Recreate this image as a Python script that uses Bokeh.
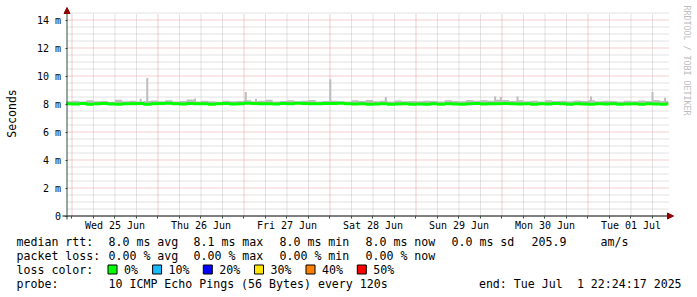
import math
import pandas as pd
from bokeh.plotting import figure
from bokeh.models import (Range1d, FixedTicker, Label, Arrow, NormalHead,
                          ColumnDataSource, DatetimeTickFormatter)
from bokeh.core.properties import value
from bokeh.embed import file_html
from bokeh.resources import INLINE

# ---------------- data ----------------
START = "2025-06-24 22:24:17"
END = "2025-07-01 22:24:17"
BIN_START = "2025-06-24 22:00"   # 2-hour bins

median_ms = [
    8.02,
    8.00, 8.03, 7.99, 8.01, 8.04, 8.00, 7.98, 8.02, 8.01, 8.03, 7.99, 8.01,
    8.04, 8.06, 8.02, 8.00, 8.03, 8.01, 8.02, 7.99, 8.01, 8.03, 8.00, 8.02,
    8.05, 8.03, 8.01, 8.02, 8.00, 8.04, 8.02, 8.06, 8.03, 8.01, 8.02, 8.04,
    8.03, 8.05, 8.02, 8.00, 8.01, 7.99, 8.00, 8.02, 7.98, 8.00, 8.01, 7.99,
    8.00, 7.98, 8.01, 7.99, 8.02, 8.00, 7.98, 8.01, 8.03, 8.00, 8.02, 8.01,
    8.04, 8.02, 8.00, 8.01, 7.99, 8.02, 8.00, 8.03, 8.01, 7.99, 8.02, 8.00,
    7.99, 8.01, 8.00, 8.02, 7.98, 8.00, 8.01, 7.99, 8.02, 8.00, 7.99, 8.01,
]
smoke_hi_ms = [
    8.20,
    8.24, 8.18, 8.27, 8.20, 8.22, 8.16, 8.30, 8.19, 8.23, 8.17, 8.21, 8.25,
    8.19, 8.26, 8.17, 8.22, 8.32, 8.18, 8.24, 8.20, 8.16, 8.23, 8.19, 8.21,
    8.27, 8.20, 8.24, 8.30, 8.18, 8.22, 8.26, 8.19, 8.23, 8.28, 8.17, 8.21,
    8.24, 8.20, 8.18, 8.26, 8.21, 8.28, 8.19, 8.23, 8.17, 8.25, 8.20, 8.22,
    8.19, 8.24, 8.21, 8.17, 8.26, 8.22, 8.20, 8.29, 8.23, 8.27, 8.24, 8.30,
    8.28, 8.22, 8.26, 8.20, 8.24, 8.18, 8.27, 8.21, 8.23, 8.19, 8.25, 8.22,
    8.26, 8.20, 8.24, 8.21, 8.17, 8.23, 8.19, 8.25, 8.22, 8.28, 8.21, 8.24,
]
spike_times = ["2025-06-25 19:10", "2025-06-25 21:00", "2025-06-26 10:20",
               "2025-06-27 00:30", "2025-06-27 03:20", "2025-06-28 00:05",
               "2025-06-28 15:35", "2025-06-29 22:05", "2025-06-29 23:40",
               "2025-06-30 04:20", "2025-07-01 00:50", "2025-07-01 18:00",
               "2025-07-01 21:30"]
spike_ms = [8.38, 9.85, 8.40, 8.85, 8.38, 9.76, 8.50, 8.54, 8.50, 8.54, 8.54, 8.85, 8.45]
spike_base_ms = 8.0

y_ticks = [0, 2, 4, 6, 8, 10, 12, 14]
y_labels = ["0", "2 m", "4 m", "6 m", "8 m", "10 m", "12 m", "14 m"]

stats_rtt = ["8.0 ms avg", "8.1 ms max", "8.0 ms min", "8.0 ms now", "0.0 ms sd", "205.9", "am/s"]
stats_loss = ["0.00 % avg", "0.00 % max", "0.00 % min", "0.00 % now"]
loss_labels = ["0%", "10%", "20%", "30%", "40%", "50%"]
loss_colors = ["#00ff00", "#1ab8ff", "#0000ff", "#ffe600", "#ff8000", "#ff0000"]
probe_text = "10 ICMP Echo Pings (56 Bytes) every 120s"
end_text = ["end: Tue Jul", "1 22:24:17 2025"]

# ---------------- styles / geometry (pixels) ----------------
FONT = "DejaVu Sans Mono"
GREEN = "#00ff00"
SMOKE = "#bdbdbd"
GRID = "#c4c4c4"
MGRID = "#e69a9a"
ARROW = "#900000"
AXIS = "#2c4d43"
W, H = 697, 297
FL, FW = 65.78, 602       # plot area left / width (86 px per day)
Y0PX, PX_PER_MS = 215.5, 14.0
YAXIS_PX = 66.5


def tms(ts):
    return pd.Timestamp(ts).value // 10**6


t0, t1 = tms(START), tms(END)


def px_t(px):
    return t0 + (px - FL) / FW * (t1 - t0)


def py_v(py):
    return (Y0PX - py) / PX_PER_MS


times = list(pd.date_range(BIN_START, periods=len(median_ms), freq="2h"))
times[0] = pd.Timestamp(START)
src = ColumnDataSource(dict(t=times + [pd.Timestamp(END)],
                            med=median_ms + [median_ms[-1]],
                            hi=smoke_hi_ms + [smoke_hi_ms[-1]]))
spk = ColumnDataSource(dict(t=pd.to_datetime(spike_times), top=spike_ms,
                            base=[spike_base_ms] * len(spike_ms)))

midnights = [tms(d) for d in pd.date_range("2025-06-25 00:00", "2025-07-01 00:00", freq="1D")]
noons = [tms(d) for d in pd.date_range("2025-06-25 12:00", "2025-07-01 12:00", freq="1D")]
sixes = [tms(d) for d in pd.date_range("2025-06-25 00:00", "2025-07-01 18:00", freq="6h")]
six_minor = [v for v in sixes if v not in midnights]
h_major = [v for v in y_ticks if v > 0]
h_minor = [k * 0.5 for k in range(1, 30) if (k * 0.5) % 2 != 0]

# ---------------- figure (frame = whole canvas, axes at fixed locations) ----------------
p = figure(width=W, height=H, x_axis_type="datetime",
           x_range=Range1d(px_t(0), px_t(W)), y_range=Range1d(py_v(H), py_v(0)),
           output_backend="svg", toolbar_location=None, min_border=0,
           background_fill_color="white", border_fill_color="white",
           outline_line_color=None)
p.title.visible = False
p.grid.visible = False

g_bot, g_top = py_v(215), py_v(13)
g_left, g_right = px_t(67), px_t(668)
p.segment(x0=six_minor, y0=[g_bot] * len(six_minor), x1=six_minor, y1=[g_top] * len(six_minor),
          line_color=GRID, line_dash="1 1", line_width=1)
p.segment(x0=[g_left] * len(h_minor), y0=h_minor, x1=[g_right] * len(h_minor), y1=h_minor,
          line_color=GRID, line_dash="1 1", line_width=1)
p.segment(x0=midnights, y0=[g_bot] * len(midnights), x1=midnights, y1=[g_top] * len(midnights),
          line_color=MGRID, line_dash="1 1", line_width=1)
p.segment(x0=[g_left] * len(h_major), y0=h_major, x1=[g_right] * len(h_major), y1=h_major,
          line_color=MGRID, line_dash="1 1", line_width=1)

p.varea_step(x="t", y1="med", y2="hi", step_mode="after", fill_color=SMOKE, source=src)
p.segment(x0="t", y0="base", x1="t", y1="top", line_width=2, line_color=SMOKE, source=spk)
p.step(x="t", y="med", mode="after", line_width=3, line_color=GREEN, source=src)

xa = p.xaxis[0]
xa.fixed_location = 0
xa.ticker = FixedTicker(ticks=noons, minor_ticks=sixes)
fmt = "%a %d %b"
xa.formatter = DatetimeTickFormatter(microseconds=fmt, milliseconds=fmt, seconds=fmt, minsec=fmt,
                                     minutes=fmt, hourmin=fmt, hours=fmt, days=fmt,
                                     months=fmt, years=fmt)
xa.axis_line_color = None
xa.major_tick_line_color = None
xa.major_tick_out = 2
xa.major_tick_in = 0
xa.minor_tick_out = 2
xa.minor_tick_in = 0
xa.minor_tick_line_color = AXIS
xa.major_label_standoff = 2
xa.major_label_text_font = FONT
xa.major_label_text_font_size = "10px"
xa.major_label_text_color = "#000000"

ya = p.yaxis[0]
ya.fixed_location = px_t(YAXIS_PX)
ya.ticker = FixedTicker(ticks=y_ticks, minor_ticks=[])
ya.major_label_overrides = dict(zip(y_ticks, y_labels))
ya.axis_line_color = None
ya.major_tick_out = 2
ya.major_tick_in = 0
ya.major_tick_line_color = AXIS
ya.major_label_standoff = 4
ya.major_label_text_font = FONT
ya.major_label_text_font_size = "10px"
ya.major_label_text_color = "#000000"

p.add_layout(Arrow(end=NormalHead(size=6, fill_color=ARROW, line_color=ARROW),
                   x_start=px_t(62), y_start=0, x_end=px_t(673), y_end=0,
                   line_color="#000000", line_width=1))
p.add_layout(Arrow(end=NormalHead(size=6, fill_color=ARROW, line_color=ARROW),
                   x_start=px_t(YAXIS_PX), y_start=py_v(219), x_end=px_t(YAXIS_PX), y_end=py_v(7),
                   line_color=AXIS, line_width=1))

p.add_layout(Label(x=px_t(11), y=py_v(113), text="Seconds", angle=math.pi / 2,
                   text_align="center", text_baseline="middle", text_font=FONT,
                   text_font_size="11.5px", text_color="#000000"))
p.add_layout(Label(x=px_t(686), y=py_v(5), text="RRDTOOL / TOBI OETIKER", angle=-math.pi / 2,
                   text_align="left", text_baseline="middle", text_font=FONT,
                   text_font_size="8.3px", text_color="#bdbdbd"))

# ---------------- legend block ----------------
rows = [241, 255, 269, 283.5]
tx, ty, tt = [], [], []


def put(x, y, s):
    tx.append(px_t(x)); ty.append(py_v(y)); tt.append(s)


put(16, rows[0], "median rtt:")
for x, s in zip([108, 193, 279, 365, 451, 531, 600], stats_rtt):
    put(x, rows[0], s)
put(16, rows[1], "packet loss:")
for x, s in zip([108, 193, 279, 365], stats_loss):
    put(x, rows[1], s)
put(16, rows[2], "loss color:")
box_px = [112, 156.6, 207.3, 258.5, 310, 361.3]
for x, s in zip(box_px, loss_labels):
    put(x + 11.5, rows[2], s)
put(16, rows[3], "probe:")
put(108, rows[3], probe_text)
put(478.4, rows[3], end_text[0])
put(576.4, rows[3], end_text[1])

p.text(x=tx, y=ty, text=tt, text_font=value(FONT), text_font_size="11.6px",
       text_baseline="middle", text_align="left", text_color="#000000")
p.scatter(x=[px_t(b) for b in box_px], y=[py_v(rows[2])] * len(box_px), marker="square",
          size=9, fill_color=loss_colors, line_color="#000000", line_width=1)

open("out.html", "w").write(file_html(p, INLINE))
